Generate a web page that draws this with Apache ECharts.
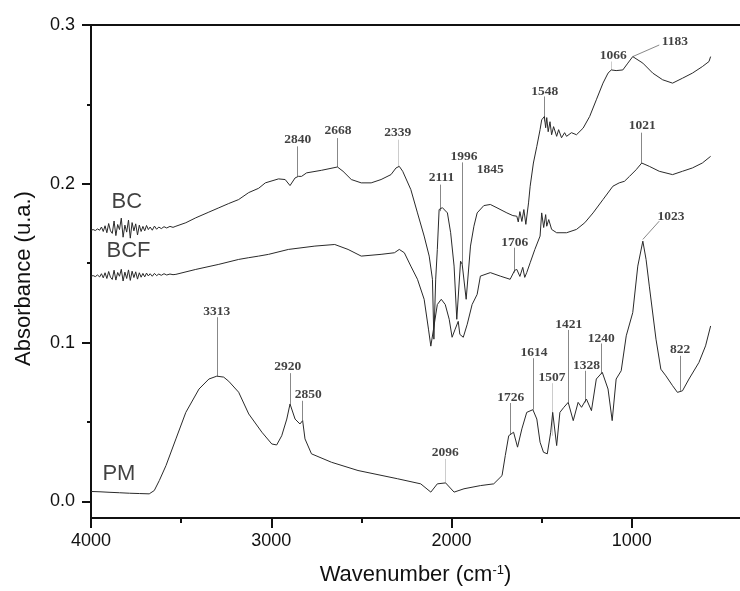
<!DOCTYPE html>
<html>
<head>
<meta charset="utf-8">
<script src="https://cdn.jsdelivr.net/npm/echarts@6/dist/echarts.min.js"></script>
<style>html,body{margin:0;padding:0;background:#fff}#c{width:740px;height:591px}</style>
</head>
<body>
<div id="c"></div>
<script>
// ---- data (wavenumber cm-1, absorbance) ----
const xTickValues = [1000, 2000, 3000, 4000];
const xMinorTickValues = [1500, 2500, 3500];
const yTickValues = [0, 0.1, 0.2, 0.3];
const yMinorTickValues = [0.05, 0.15, 0.25];

const bcData = [
[4000,0.1708],[3988,0.1712],[3976,0.1706],[3964,0.1716],[3952,0.1708],[3942,0.1728],[3932,0.1700],[3922,0.1736],[3912,0.1692],[3902,0.1750],[3892,0.1704],[3882,0.1688],[3872,0.1766],[3862,0.1674],[3852,0.1744],[3842,0.1712],[3832,0.1784],[3822,0.1664],[3812,0.1740],[3802,0.1696],[3792,0.1772],[3782,0.1658],[3772,0.1756],[3762,0.1704],[3752,0.1748],[3742,0.1678],[3732,0.1740],[3722,0.1700],[3712,0.1732],[3702,0.1704],[3692,0.1738],[3682,0.1712],[3672,0.1728],[3660,0.1708],[3648,0.1734],[3636,0.1714],[3624,0.1728],[3610,0.1718],[3595,0.1730],[3580,0.1722],[3562,0.1732],[3545,0.1726],[3529,0.1733],
[3474,0.1755],[3419,0.1786],[3350,0.1820],[3291,0.1849],[3236,0.1876],[3181,0.1901],[3125,0.1945],[3070,0.1972],[3033,0.2006],[2960,0.2031],[2923,0.2027],[2896,0.1989],[2868,0.2037],[2850,0.2047],[2832,0.2047],[2804,0.2069],[2722,0.2085],[2633,0.2106],[2602,0.2079],[2556,0.2027],[2501,0.2006],[2446,0.2006],[2391,0.2027],[2336,0.2058],[2308,0.2100],[2290,0.2110],[2271,0.2079],[2226,0.1964],[2189,0.1817],[2152,0.1671],[2124,0.1545],[2106,0.1399],[2098,0.1022],[2088,0.1400],[2079,0.1586],[2069,0.1838],[2051,0.1850],[2023,0.1817],[2005,0.1692],[1986,0.1482],[1971,0.1147],[1950,0.1513],[1941,0.1493],[1931,0.1482],[1919,0.1273],[1895,0.1608],[1876,0.1733],[1858,0.1817],[1821,0.1863],[1785,0.1870],[1748,0.1849],[1693,0.1817],[1660,0.1800],[1638,0.1796],[1630,0.1760],[1621,0.1825],[1610,0.1763],[1599,0.1838],[1588,0.1745],[1583,0.1733],[1573,0.1880],[1564,0.1985],[1546,0.2131],[1527,0.2236],[1509,0.2341],[1500,0.2403],[1485,0.2424],[1478,0.2353],[1472,0.2417],[1464,0.2328],[1454,0.2391],[1445,0.2309],[1434,0.2360],[1417,0.2299],[1406,0.2341],[1390,0.2290],[1373,0.2322],[1362,0.2299],[1335,0.2322],[1307,0.2309],[1270,0.2351],[1234,0.2424],[1197,0.2529],[1160,0.2634],[1132,0.2697],[1114,0.2717],[1087,0.2713],[1050,0.2717],[1022,0.2760],[995,0.2801],[939,0.2760],[884,0.2697],[829,0.2655],[774,0.2634],[719,0.2665],[664,0.2697],[609,0.2738],[572,0.2770],[563,0.2801]
];

const bcfData = [
[4000,0.1419],[3988,0.1422],[3976,0.1416],[3964,0.1426],[3952,0.1414],[3942,0.1434],[3932,0.1408],[3922,0.1440],[3912,0.1404],[3902,0.1448],[3892,0.1412],[3882,0.1398],[3872,0.1456],[3862,0.1394],[3852,0.1442],[3842,0.1418],[3832,0.1462],[3822,0.1388],[3812,0.1444],[3802,0.1404],[3792,0.1458],[3782,0.1392],[3772,0.1450],[3762,0.1410],[3752,0.1446],[3742,0.1400],[3732,0.1440],[3722,0.1412],[3712,0.1436],[3702,0.1414],[3692,0.1438],[3682,0.1420],[3672,0.1434],[3660,0.1418],[3648,0.1436],[3636,0.1422],[3624,0.1432],[3610,0.1424],[3595,0.1434],[3580,0.1426],[3562,0.1432],[3545,0.1428],[3529,0.1430],
[3419,0.1461],[3291,0.1493],[3181,0.1524],[3125,0.1535],[3070,0.1545],[3015,0.1556],[2905,0.1587],[2758,0.1608],[2648,0.1618],[2574,0.1587],[2501,0.1545],[2391,0.1556],[2317,0.1566],[2290,0.1587],[2262,0.1566],[2226,0.1482],[2189,0.1399],[2152,0.1273],[2128,0.1085],[2115,0.0978],[2100,0.1085],[2079,0.1240],[2057,0.1273],[2035,0.1240],[2013,0.1147],[1997,0.1034],[1980,0.1085],[1963,0.1134],[1954,0.1052],[1935,0.1034],[1913,0.1116],[1886,0.1240],[1858,0.1304],[1840,0.1419],[1785,0.1441],[1730,0.1419],[1675,0.1399],[1650,0.1455],[1638,0.1461],[1621,0.1417],[1605,0.1474],[1594,0.1411],[1583,0.1441],[1564,0.1503],[1538,0.1587],[1509,0.1671],[1500,0.1817],[1489,0.1725],[1478,0.1806],[1472,0.1733],[1461,0.1775],[1445,0.1713],[1417,0.1692],[1362,0.1692],[1307,0.1713],[1261,0.1755],[1215,0.1817],[1160,0.1901],[1105,0.1985],[1070,0.2006],[1041,0.2016],[1013,0.2047],[976,0.2089],[945,0.2131],[903,0.2110],[848,0.2079],[774,0.2058],[719,0.2079],[664,0.2100],[609,0.2131],[563,0.2173]
];

const pmData = [
[4000,0.0063],[3950,0.0061],[3900,0.0058],[3842,0.0055],[3787,0.0052],[3732,0.0050],[3677,0.0048],[3649,0.0069],[3621,0.0132],[3584,0.0226],[3529,0.0394],[3474,0.0561],[3401,0.0708],[3346,0.0771],[3302,0.0789],[3264,0.0783],[3236,0.0757],[3181,0.0688],[3125,0.0551],[3052,0.0436],[2997,0.0362],[2970,0.0356],[2942,0.0414],[2914,0.0519],[2896,0.0614],[2868,0.0519],[2841,0.0488],[2826,0.0509],[2813,0.0394],[2777,0.0300],[2666,0.0247],[2519,0.0195],[2299,0.0143],[2171,0.0111],[2115,0.0059],[2079,0.0111],[2033,0.0117],[1986,0.0059],[1931,0.0080],[1840,0.0100],[1766,0.0111],[1720,0.0163],[1702,0.0289],[1683,0.0414],[1656,0.0436],[1634,0.0342],[1610,0.0457],[1583,0.0561],[1549,0.0578],[1527,0.0519],[1509,0.0373],[1490,0.0310],[1469,0.0300],[1450,0.0436],[1439,0.0561],[1417,0.0352],[1399,0.0561],[1377,0.0593],[1353,0.0624],[1325,0.0509],[1298,0.0624],[1279,0.0593],[1252,0.0645],[1224,0.0572],[1197,0.0771],[1164,0.0813],[1132,0.0708],[1109,0.0509],[1087,0.0771],[1059,0.0823],[1031,0.1043],[995,0.1189],[967,0.1482],[939,0.1639],[921,0.1524],[903,0.1356],[866,0.1022],[839,0.0833],[811,0.0791],[774,0.0729],[747,0.0687],[719,0.0697],[683,0.0771],[628,0.0875],[591,0.0980],[563,0.1105]
];

// peak annotations: label, leader line start (on curve), leader line end, label centre, leader colour key
const peakLabels = ['2840','2668','2339','2111','1996','1845','1548','1066','1183','1706','1021','3313','2920','2850','2096','1726','1614','1507','1421','1328','1240','1023','822'];
const peakLineFrom = [[2854,0.2047],[2633,0.2106],[2295,0.2110],[2060,0.1828],[1941,0.1493],null,[1485,0.2393],[1114,0.2717],[995,0.2801],[1650,0.1441],[945,0.2131],[3302,0.0789],[2896,0.0614],[2828,0.0509],[2033,0.0117],[1675,0.0425],[1549,0.0578],[1441,0.0414],[1351,0.0624],[1261,0.0624],[1169,0.0802],[939,0.1650],[732,0.0697]];
const peakLineTo = [[2854,0.2236],[2633,0.2288],[2295,0.2278],[2060,0.1995],[1941,0.2135],null,[1485,0.2550],[1114,0.2770],[848,0.2874],[1650,0.1598],[945,0.2322],[3302,0.1160],[2896,0.0808],[2828,0.0634],[2033,0.0268],[1675,0.0620],[1549,0.0902],[1441,0.0745],[1351,0.1080],[1261,0.0823],[1169,0.0995],[848,0.1765],[732,0.0917]];
const peakLabelPos = [[2853,0.2278],[2630,0.2334],[2299,0.2326],[2056,0.2039],[1931,0.2173],[1786,0.2089],[1483,0.2579],[1103,0.2807],[761,0.2895],[1649,0.1629],[942,0.2364],[3302,0.1198],[2909,0.0848],[2795,0.0672],[2035,0.0307],[1672,0.0653],[1542,0.0941],[1443,0.0779],[1350,0.1113],[1252,0.0857],[1169,0.1027],[783,0.1796],[732,0.0956]];
const peakLineGrey = [false,false,true,false,false,false,false,true,false,false,false,false,false,false,true,false,false,true,false,false,false,false,false];

const seriesNames = ['BC','BCF','PM'];
const seriesNamePos = [[3801,0.1888],[3792,0.1578],[3845,0.0174]];

// ---- chart ----
const chart = echarts.init(document.getElementById('c'), null, {renderer:'canvas'});
const SANS = '"Liberation Sans", Arial, sans-serif';
const SERIF = '"Liberation Serif", "Times New Roman", serif';
const lineStyle = {color:'#2a2a2a', width:1};

const leaderData = [];
peakLabels.forEach((t,i)=>{
  if(peakLineFrom[i]) leaderData.push({coords:[peakLineFrom[i], peakLineTo[i]], lineStyle:{color: peakLineGrey[i] ? '#9a9a9a' : '#111', width:1}});
});

const xBase = {type:'value', min:400, max:4000, inverse:true, splitLine:{show:false}};
const yBase = {type:'value', min:-0.0104, max:0.3, splitLine:{show:false}};

chart.setOption({
  animation:false,
  backgroundColor:'#fff',
  grid:{left:91, top:25, right:-5, bottom:72, containLabel:false},
  xAxis:[
    Object.assign({}, xBase, {position:'bottom',
      name:'Wavenumber (cm{sup|-1})', nameLocation:'middle', nameGap:46,
      nameTextStyle:{fontFamily:SANS, fontSize:22, color:'#111', rich:{sup:{fontFamily:SANS, fontSize:13, verticalAlign:'top', color:'#111'}}},
      axisLine:{show:true, onZero:false, lineStyle:{color:'#111', width:2}},
      axisTick:{show:true, inside:false, length:10, customValues:xTickValues, lineStyle:{color:'#111', width:2}},
      axisLabel:{show:true, customValues:xTickValues, margin:14, fontFamily:SANS, fontSize:18, color:'#111', formatter:v=>String(Math.round(v))}}),
    Object.assign({}, xBase, {position:'bottom',
      axisLine:{show:false, onZero:false}, axisLabel:{show:false},
      axisTick:{show:true, inside:false, length:5, customValues:xMinorTickValues, lineStyle:{color:'#111', width:2}}}),
    Object.assign({}, xBase, {position:'top',
      axisLine:{show:true, onZero:false, lineStyle:{color:'#111', width:2}}, axisTick:{show:false}, axisLabel:{show:false}})
  ],
  yAxis:[
    Object.assign({}, yBase, {position:'left',
      name:'Absorbance (u.a.)', nameLocation:'middle', nameGap:56,
      nameTextStyle:{fontFamily:SANS, fontSize:22, color:'#111', padding:[0,14,0,0]},
      axisLine:{show:true, onZero:false, lineStyle:{color:'#111', width:2}},
      axisTick:{show:true, inside:false, length:9, customValues:yTickValues, lineStyle:{color:'#111', width:2}},
      axisLabel:{show:true, customValues:yTickValues, margin:16, fontFamily:SANS, fontSize:18, color:'#111', formatter:v=>v.toFixed(1)}}),
    Object.assign({}, yBase, {position:'left',
      axisLine:{show:false, onZero:false}, axisLabel:{show:false},
      axisTick:{show:true, inside:false, length:4, customValues:yMinorTickValues, lineStyle:{color:'#111', width:2}}})
  ],
  series:[
    {name:'BC', type:'line', data:bcData, showSymbol:false, symbol:'none', lineStyle:lineStyle, xAxisIndex:0, yAxisIndex:0},
    {name:'BCF', type:'line', data:bcfData, showSymbol:false, symbol:'none', lineStyle:lineStyle, xAxisIndex:0, yAxisIndex:0},
    {name:'PM', type:'line', data:pmData, showSymbol:false, symbol:'none', lineStyle:lineStyle, xAxisIndex:0, yAxisIndex:0},
    {type:'lines', coordinateSystem:'cartesian2d', xAxisIndex:0, yAxisIndex:0, data:leaderData, silent:true, z:3},
    {type:'scatter', xAxisIndex:0, yAxisIndex:0, symbolSize:0, silent:true, z:4,
      data: peakLabels.map((t,i)=>({value:peakLabelPos[i], name:t})),
      label:{show:true, position:'inside', formatter:p=>p.name, fontFamily:SERIF, fontWeight:'bold', fontSize:13.5, color:'#111'}},
    {type:'scatter', xAxisIndex:0, yAxisIndex:0, symbolSize:0, silent:true, z:4,
      data: seriesNames.map((t,i)=>({value:seriesNamePos[i], name:t})),
      label:{show:true, position:'inside', formatter:p=>p.name, fontFamily:SANS, fontSize:22, color:'#111'}}
  ]
});
</script>
</body>
</html>
